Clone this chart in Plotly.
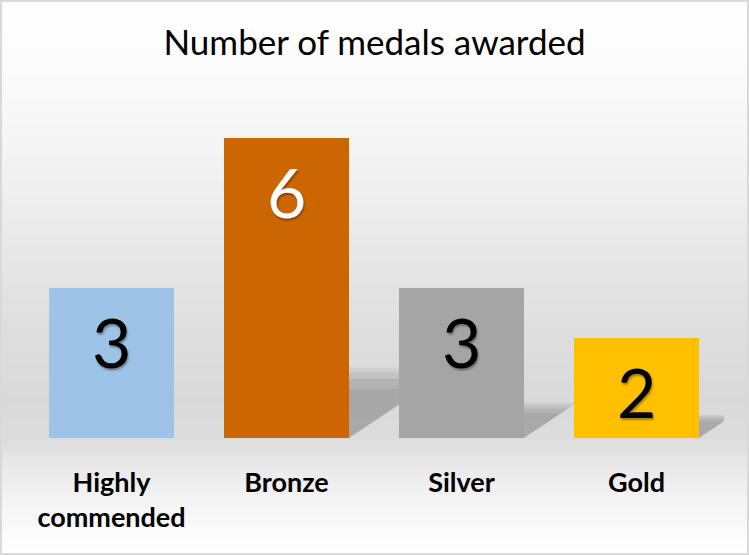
import plotly.graph_objects as go

# chart data
categories = ["Highly<br>commended", "Bronze", "Silver", "Gold"]
medals = [3, 6, 3, 2]
bar_colors = ["#9DC3E6", "#CC6600", "#A5A5A5", "#FFC000"]
label_colors = ["black", "white", "black", "black"]
casts_shadow = [False, True, True, True]
title_text = "Number of medals awarded"

W, H = 749, 555
ML, MR, MT, MB = 24, 25, 88, 117
PW, PH = W - ML - MR, H - MT - MB
Y_MAX = 7
BAR_W = 0.714

fig = go.Figure()

# background gradient (light grey band behind the bars) as stacked strips
grad_stops = [(0, 255), (60, 252), (140, 245), (250, 232), (330, 222),
              (400, 217), (438, 220), (470, 234), (510, 247), (555, 255)]


def grey_at(py):
    for (a, ga), (b, gb) in zip(grad_stops, grad_stops[1:]):
        if a <= py <= b:
            return ga + (gb - ga) * (py - a) / (b - a)
    return 255


step = 5
for py in range(0, H, step):
    g = int(round(grey_at(py + step / 2)))
    fig.add_shape(
        type="rect", xref="paper", yref="paper", layer="below",
        x0=-ML / PW, x1=1 + MR / PW,
        y0=1 + (MT - py - step) / PH, y1=1 + (MT - py) / PH,
        fillcolor=f"rgb({g},{g},{g})", line={"width": 0},
    )

# skewed, soft drop shadows cast to the right of the bars (below the bars)
px_x = PW / 4.0
px_y = PH / Y_MAX
for i, v in enumerate(medals):
    if not casts_shadow[i]:
        continue
    sh = 0.235 * v
    shift = 1.5 * sh * px_y / px_x
    x0, x1 = i - BAR_W / 2, i + BAR_W / 2
    for k, alpha in [(1.0, 0.05), (0.93, 0.06), (0.84, 0.07), (0.7, 0.06)]:
        path = (f"M {x0},0 L {x1},0 L {x1 + shift * k},{sh * k} "
                f"L {x0 + shift * k},{sh * k} Z")
        fig.add_shape(
            type="path", xref="x", yref="y", layer="below", path=path,
            fillcolor=f"rgba(0,0,0,{alpha})", line={"width": 0},
        )

fig.add_trace(
    go.Bar(
        x=list(range(len(categories))),
        y=medals,
        width=BAR_W,
        marker={"color": bar_colors, "line": {"width": 0}},
        hoverinfo="x+y",
        showlegend=False,
    )
)

# value labels just inside the top of each bar
for i, v in enumerate(medals):
    fig.add_annotation(
        x=i, y=v, text=str(v), showarrow=False,
        xref="x", yref="y", yanchor="top", yshift=-11,
        font={"family": "Lato", "size": 68, "color": label_colors[i],
              "shadow": "1px 2px 2px rgba(0,0,0,0.35)"},
    )

# outer border of the chart
fig.add_shape(
    type="rect", xref="paper", yref="paper", layer="above",
    x0=-ML / PW + 1 / PW, x1=1 + MR / PW - 1 / PW,
    y0=-MB / PH + 1 / PH, y1=1 + MT / PH - 1 / PH,
    line={"color": "#D9D9D9", "width": 2},
)

fig.update_layout(
    width=W,
    height=H,
    margin={"l": ML, "r": MR, "t": MT, "b": MB},
    paper_bgcolor="white",
    plot_bgcolor="rgba(0,0,0,0)",
    title={"text": title_text, "x": 0.5, "xanchor": "center",
           "y": 1 - 43 / H, "yanchor": "middle",
           "font": {"family": "Lato", "size": 35, "color": "black"}},
    xaxis={
        "range": [-0.5, 3.5],
        "tickvals": list(range(len(categories))),
        "ticktext": [f"<b>{c}</b>" for c in categories],
        "tickfont": {"family": "Lato", "size": 27, "color": "black"},
        "showgrid": False,
        "zeroline": False,
        "showline": False,
        "ticks": "",
        "ticklabelstandoff": 26,
        "fixedrange": True,
    },
    yaxis={
        "range": [0, Y_MAX],
        "visible": False,
        "showgrid": False,
        "zeroline": False,
        "fixedrange": True,
    },
    bargap=0,
)

fig.write_html(
    "out.html",
    config={"displayModeBar": False},
    post_script="document.body.style.margin='0';",
)
